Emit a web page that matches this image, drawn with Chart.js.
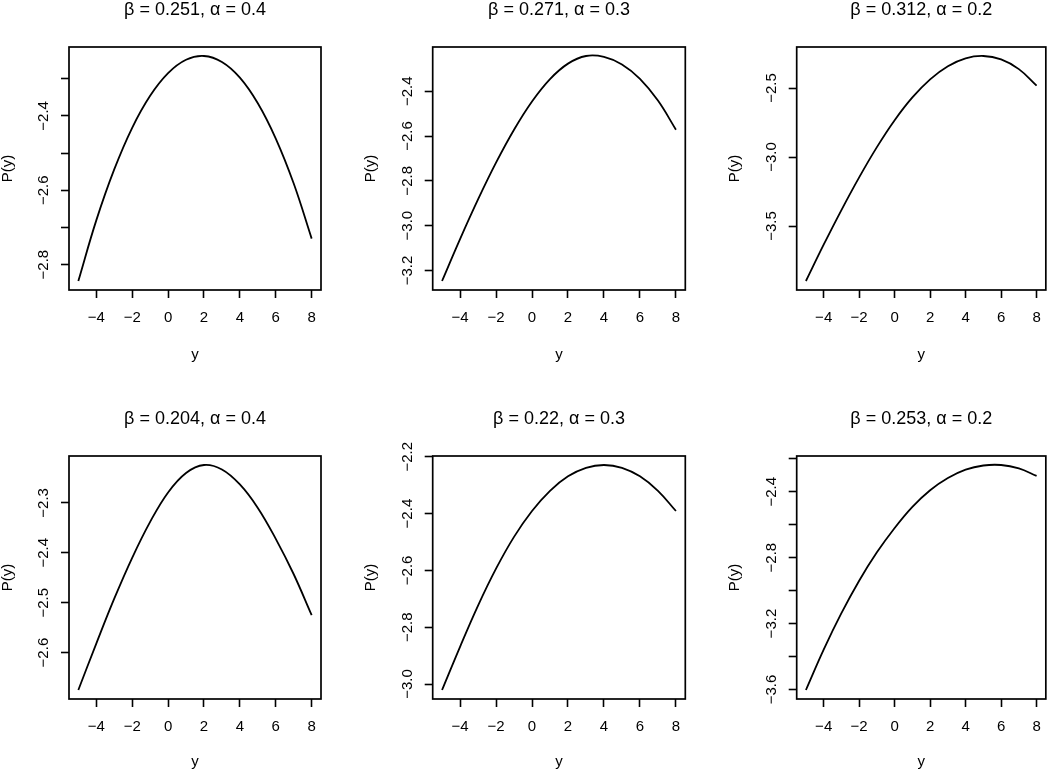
<!DOCTYPE html>
<html>
<head>
<meta charset="utf-8">
<title>P(y) panels</title>
<script src="https://cdn.jsdelivr.net/npm/chart.js@4.4.1/dist/chart.umd.min.js"></script>
<style>
  html, body { margin: 0; padding: 0; background: #fff; overflow: hidden; }
  #wrap { position: relative; width: 1050px; height: 771px; }
  #wrap canvas { position: absolute; }
</style>
</head>
<body>
<div id="wrap"></div>
<script>
// values of y on the horizontal axis (same for every panel)
const yGrid = [-5, -4, -3, -2, -1, 0, 1, 2, 3, 4, 5, 6, 7, 8];

// P(y)
const pBeta251 = [-2.844, -2.681, -2.544, -2.432, -2.346, -2.285, -2.249, -2.239, -2.255, -2.297, -2.366, -2.461, -2.582, -2.730];
const pBeta271 = [-3.247, -3.060, -2.883, -2.719, -2.572, -2.446, -2.346, -2.277, -2.243, -2.247, -2.281, -2.345, -2.442, -2.572];
const pBeta312 = [-3.898, -3.635, -3.384, -3.147, -2.928, -2.733, -2.568, -2.437, -2.342, -2.285, -2.268, -2.293, -2.363, -2.482];
const pBeta204 = [-2.675, -2.582, -2.492, -2.410, -2.338, -2.279, -2.240, -2.224, -2.233, -2.263, -2.310, -2.372, -2.443, -2.525];
const pBeta220 = [-3.021, -2.869, -2.724, -2.594, -2.482, -2.391, -2.320, -2.269, -2.239, -2.229, -2.239, -2.269, -2.320, -2.391];
const pBeta253 = [-3.603, -3.358, -3.137, -2.940, -2.768, -2.620, -2.492, -2.391, -2.317, -2.266, -2.241, -2.238, -2.259, -2.304];

const panelTitles = [
  "β = 0.251, α = 0.4", "β = 0.271, α = 0.3", "β = 0.312, α = 0.2",
  "β = 0.204, α = 0.4", "β = 0.22, α = 0.3", "β = 0.253, α = 0.2"
];
const panelSeries = [pBeta251, pBeta271, pBeta312, pBeta204, pBeta220, pBeta253];

// tick spacing on the P(y) axis, and which ticks get a label
const yTickStep = [0.1, 0.2, 0.5, 0.1, 0.2, 0.2];
const yLabelStep = [0.2, 0.2, 0.5, 0.1, 0.2, 0.4];
const xTickStep = 2;

// page layout (px)
const colLeft = [0, 350, 700];
const colWidth = [350, 350, 352];
const boxLeft = [69, 82.7, 96.7];
const boxRightGap = [29, 14.7, 3];
const rowTop = [0, 385];
const rowHeight = [385, 386];
const boxTop = [47, 71];
const boxBottom = [290, 314];
const titleMid = [10, 34.3];
const xLabMid = [355, 377];

const FONT = '"Liberation Sans", Arial, Helvetica, sans-serif';
const LAB_SIZE = 15;
const TITLE_SIZE = 18;
Chart.defaults.font.family = FONT;
Chart.defaults.color = "#000";

const minus = (s) => s.replace("-", "\u2212");

// R-like range: data range stretched by 4% each side
function padRange(arr) {
  const lo = Math.min(...arr), hi = Math.max(...arr);
  const d = (hi - lo) * 0.04;
  return [lo - d, hi + d];
}

// full box round the plot region
const frame = {
  id: "frame",
  afterDraw(chart) {
    const { ctx, chartArea: a } = chart;
    ctx.save();
    ctx.strokeStyle = "#000";
    ctx.lineWidth = 1.7;
    ctx.strokeRect(a.left, a.top, a.right - a.left, a.bottom - a.top);
    ctx.restore();
  }
};

const tickGrid = {
  display: true,
  drawOnChartArea: false,
  drawTicks: true,
  tickLength: 8,
  tickWidth: 1.6,
  tickColor: "#000"
};

const wrap = document.getElementById("wrap");
const [xMin, xMax] = padRange(yGrid);

panelSeries.forEach((vals, i) => {
  const col = i % 3, row = Math.floor(i / 3);
  const canvas = document.createElement("canvas");
  canvas.width = colWidth[col];
  canvas.height = rowHeight[row];
  canvas.style.left = colLeft[col] + "px";
  canvas.style.top = rowTop[row] + "px";
  wrap.appendChild(canvas);

  const [yMin, yMax] = padRange(vals);
  const titleLh = TITLE_SIZE * 1.2;
  const tPadTop = titleMid[row] - titleLh / 2;
  const tPadBottom = boxTop[row] - tPadTop - titleLh;
  const labLh = LAB_SIZE * 1.2;

  new Chart(canvas.getContext("2d"), {
    type: "line",
    data: {
      datasets: [{
        data: vals.map((v, k) => ({ x: yGrid[k], y: v })),
        borderColor: "#000",
        borderWidth: 1.8,
        pointRadius: 0,
        tension: 0.4,
        fill: false
      }]
    },
    options: {
      responsive: false,
      animation: false,
      events: [],
      layout: { padding: { left: 0, top: 0, bottom: 0, right: boxRightGap[col] } },
      plugins: {
        legend: { display: false },
        tooltip: { enabled: false },
        title: {
          display: true,
          fullSize: false,
          text: panelTitles[i],
          color: "#000",
          font: { size: TITLE_SIZE, weight: "normal", family: FONT },
          padding: { top: tPadTop, bottom: tPadBottom }
        }
      },
      scales: {
        x: {
          type: "linear",
          min: xMin,
          max: xMax,
          grid: tickGrid,
          border: { display: false },
          ticks: {
            stepSize: xTickStep,
            includeBounds: false,
            autoSkip: false,
            maxRotation: 0,
            padding: 11,
            font: { size: LAB_SIZE },
            color: "#000",
            callback: (v) => minus(String(Math.round(v)))
          },
          title: {
            display: true,
            text: "y",
            font: { size: LAB_SIZE },
            color: "#000",
            padding: { top: 0, bottom: rowHeight[row] - xLabMid[row] - labLh / 2 }
          },
          afterFit: (s) => { s.height = rowHeight[row] - boxBottom[row]; }
        },
        y: {
          type: "linear",
          min: yMin,
          max: yMax,
          grid: tickGrid,
          border: { display: false },
          ticks: {
            stepSize: yTickStep[i],
            includeBounds: false,
            autoSkip: false,
            minRotation: 90,
            maxRotation: 90,
            crossAlign: "center",
            padding: 2.5,
            font: { size: LAB_SIZE },
            color: "#000",
            callback: (v) => {
              const q = v / yLabelStep[i];
              if (Math.abs(q - Math.round(q)) > 1e-6) return "";
              return minus(v.toFixed(1));
            }
          },
          title: {
            display: true,
            text: "P(y)",
            font: { size: LAB_SIZE },
            color: "#000",
            padding: { top: boxLeft[col] - 61.5 - labLh / 2, bottom: 0 }
          },
          afterFit: (s) => { s.width = boxLeft[col]; }
        }
      }
    },
    plugins: [frame]
  });
});
</script>
</body>
</html>
